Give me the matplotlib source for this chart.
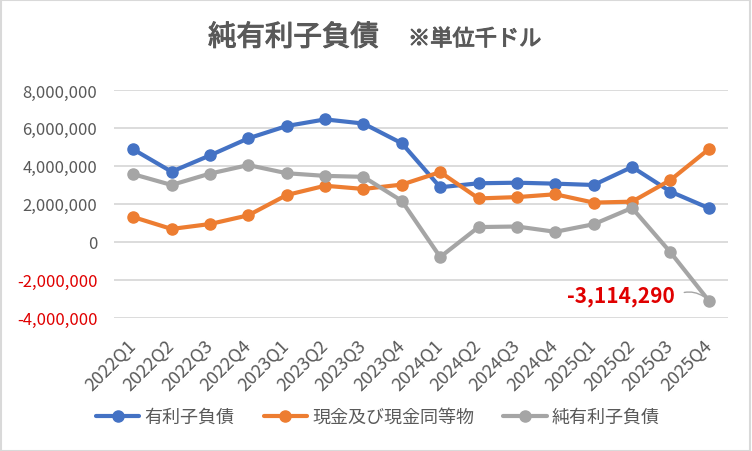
import matplotlib
matplotlib.use('Agg')
import matplotlib.pyplot as plt
import matplotlib.patheffects as pe
from matplotlib.patches import Rectangle
from matplotlib.ticker import FuncFormatter
import numpy as np

plt.rcParams['font.family'] = ['Noto Sans CJK JP', 'DejaVu Sans']

quarters = ['2022Q1', '2022Q2', '2022Q3', '2022Q4',
            '2023Q1', '2023Q2', '2023Q3', '2023Q4',
            '2024Q1', '2024Q2', '2024Q3', '2024Q4',
            '2025Q1', '2025Q2', '2025Q3', '2025Q4']

# 有利子負債
debt = [4870000, 3690000, 4550000, 5450000, 6100000, 6450000, 6230000, 5190000,
        2870000, 3080000, 3110000, 3060000, 2990000, 3940000, 2640000, 1770000]
# 現金及び現金同等物
cash = [1300000, 670000, 930000, 1390000, 2460000, 2950000, 2780000, 3010000,
        3670000, 2280000, 2350000, 2500000, 2060000, 2110000, 3250000, 4880000]
# 純有利子負債
net_debt = [3560000, 2990000, 3590000, 4040000, 3610000, 3470000, 3420000, 2150000,
            -810000, 770000, 800000, 520000, 920000, 1780000, -560000, -3114290]

names = ['有利子負債', '現金及び現金同等物', '純有利子負債']
colors = ['#4472C4', '#ED7D31', '#A5A5A5']
gray_txt = '#595959'
red_txt = '#E00000'

fig = plt.figure(figsize=(7.52, 4.52), dpi=100)
ax = fig.add_axes([114/752, 1-318.5/452, (728-114)/752, (318.5-91)/452])

x = np.arange(len(quarters))
for vals, name, c in zip([debt, cash, net_debt], names, colors):
    ax.plot(x, vals, color=c, lw=3, marker='o', ms=8, label=name,
            solid_capstyle='round', solid_joinstyle='round', zorder=3)

ax.set_xlim(-0.5, len(quarters)-0.5)
ax.set_ylim(-4000000, 8000000)
ax.set_yticks(np.arange(-4000000, 8000001, 2000000))
ax.yaxis.set_major_formatter(FuncFormatter(lambda v, p: f'{int(v):,}'))
ax.grid(axis='y', color='#D9D9D9', lw=1.3, zorder=0)
for s in ax.spines.values():
    s.set_visible(False)
ax.tick_params(axis='y', length=0, pad=12, labelsize=12, labelcolor=gray_txt)
for lbl, v in zip(ax.get_yticklabels(), ax.get_yticks()):
    if v < 0:
        lbl.set_color(red_txt)

ax.set_xticks(x)
ax.set_xticklabels(quarters, rotation=45, ha='right', va='center',
                   rotation_mode='anchor', fontsize=13, color=gray_txt)
ax.tick_params(axis='x', length=0, pad=18)

# last value label
ax.annotate(f'{net_debt[-1]:,}', xy=(x[-1], net_debt[-1]),
            xytext=(-34, 5), textcoords='offset pixels',
            ha='right', va='center', fontsize=15, fontweight='bold', color=red_txt,
            arrowprops=dict(arrowstyle='-', color='#A5A5A5', lw=1,
                            relpos=(1, 0.5), shrinkA=5, shrinkB=5,
                            connectionstyle='arc3,rad=-0.35'))

leg = fig.legend(loc='center', bbox_to_anchor=(378/752, 1-418/452), ncol=3,
                 frameon=False, fontsize=13, handlelength=2.4, handletextpad=0.3,
                 columnspacing=1.6)
for t in leg.get_texts():
    t.set_color(gray_txt)

stroke = [pe.withStroke(linewidth=0.8, foreground=gray_txt)]
fig.text(208/752, 1-38.5/452, '純有利子負債', fontsize=20.5, color=gray_txt,
         ha='left', va='center', path_effects=stroke)
fig.text(408/752, 1-40/452, '※単位千ドル', fontsize=16, color=gray_txt,
         ha='left', va='center', path_effects=stroke)

fig.patches.append(Rectangle((0.001, 0.001), 0.997, 0.997, transform=fig.transFigure,
                             fill=False, edgecolor='#D9D9D9', lw=1.5))

fig.savefig('out.png', dpi=100)
